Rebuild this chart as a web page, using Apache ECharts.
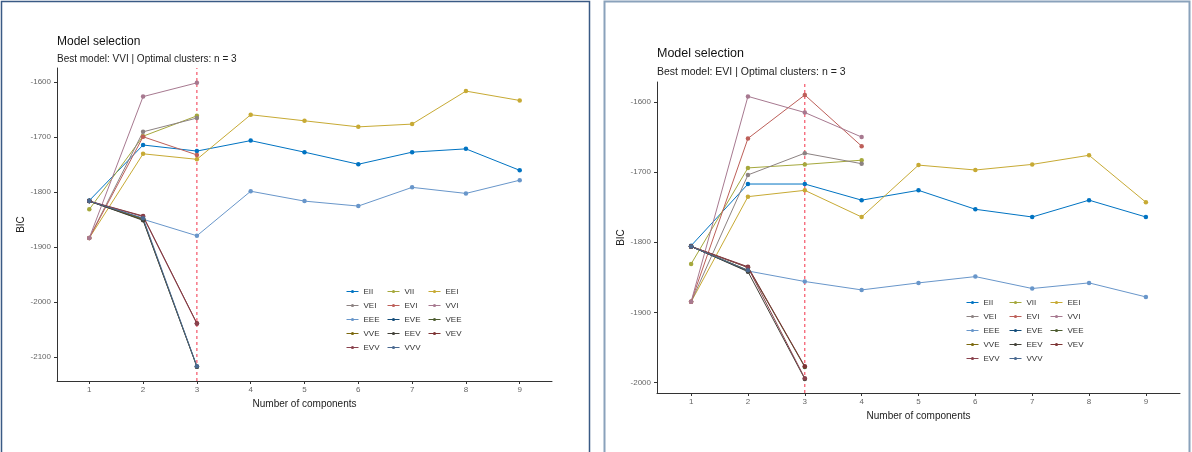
<!DOCTYPE html>
<html>
<head>
<meta charset="utf-8">
<script src="https://cdn.jsdelivr.net/npm/echarts@6/dist/echarts.min.js"></script>
<style>
html,body{margin:0;padding:0;background:#fff;}
#c{width:1192px;height:452px;}
</style>
</head>
<body>
<div id="c"></div>
<script>
// ---- data ----
const models = ['EII','VII','EEI','VEI','EVI','VVI','EEE','EVE','VEE','VVE','EEV','VEV','EVV','VVV'];
const modelColors = ['#0073C2','#A5A83C','#C7AA34','#8C8282','#BD5F59','#A77990','#6896CA','#134C79','#4D5C30','#7C690E','#424037','#7D3434','#8A424E','#4A6990'];
const components = [1,2,3,4,5,6,7,8,9];
const leftYTicks = [-2100,-2000,-1900,-1800,-1700,-1600];
const rightYTicks = [-2000,-1900,-1800,-1700,-1600];

// left panel (Best model VVI)
const L_EII = [-1816,-1715,-1726,-1707,-1728,-1750,-1728,-1722,-1761];
const L_VII = [-1832,-1699,-1662];
const L_EEI = [-1884,-1731,-1741,-1660,-1671,-1682,-1677,-1617,-1634];
const L_VEI = [-1884,-1691,-1666];
const L_EVI = [-1884,-1700,-1733];
const L_VVI = [-1884,-1627,-1602];
const L_EEE = [-1817,-1850,-1880,-1799,-1817,-1826,-1792,-1803,-1779];
const L_EVE = [-1817,-1849];
const L_VEE = [-1817,-1851,-2118];
const L_VVE = [-1817,-1850];
const L_EEV = [-1817,-1852,-2118];
const L_VEV = [-1817,-1844,-2039];
const L_EVV = [-1817,-1845,-2040];
const L_VVV = [-1817,-1848,-2117];

// right panel (Best model EVI)
const R_EII = [-1805,-1717,-1717,-1740,-1726,-1753,-1764,-1740,-1764];
const R_VII = [-1831,-1694,-1689,-1683];
const R_EEI = [-1885,-1735,-1726,-1764,-1690,-1697,-1689,-1676,-1743];
const R_VEI = [-1885,-1704,-1673,-1688];
const R_EVI = [-1885,-1652,-1590,-1663];
const R_VVI = [-1885,-1592,-1615,-1650];
const R_EEE = [-1806,-1841,-1856,-1868,-1858,-1849,-1866,-1858,-1878];
const R_EVE = [-1806,-1841];
const R_VEE = [-1806,-1836,-1978];
const R_VVE = [-1806,-1840];
const R_EEV = [-1806,-1842,-1995];
const R_VEV = [-1806,-1835,-1977];
const R_EVV = [-1806,-1836,-1994];
const R_VVV = [-1806,-1840];

const titleText = 'Model selection';
const leftSubtitle = 'Best model: VVI | Optimal clusters: n = 3';
const rightSubtitle = 'Best model: EVI | Optimal clusters: n = 3';
const bestK = 3;

const leftSets = [L_EII,L_VII,L_EEI,L_VEI,L_EVI,L_VVI,L_EEE,L_EVE,L_VEE,L_VVE,L_EEV,L_VEV,L_EVV,L_VVV];
const rightSets = [R_EII,R_VII,R_EEI,R_VEI,R_EVI,R_VVI,R_EEE,R_EVE,R_VEE,R_VVE,R_EEV,R_VEV,R_EVV,R_VVV];

// axis ranges (ggplot-style 5% expansion)
const leftRange = [-2144, -1575];
const rightRange = [-2015, -1571.5];

// ---- chart ----
const FONT = '"Liberation Sans", Arial, sans-serif';
const RED = '#f2334a';
const chart = echarts.init(document.getElementById('c'), null, {renderer:'canvas'});

function mkSeries(sets, axisIdx, range){
  const out = [{
    // dashed vertical line at the optimal number of clusters
    type:'line', name:'optimal', xAxisIndex: axisIdx, yAxisIndex: axisIdx,
    data:[[bestK, range[0]], [bestK, range[1]]],
    showSymbol:false, symbol:'none', z:1,
    lineStyle:{color: RED, type:[3,3], width:1},
    emphasis:{disabled:true}, animation:false, silent:true
  }];
  sets.forEach((vals, i) => out.push({
    type:'line', name: models[i], xAxisIndex: axisIdx, yAxisIndex: axisIdx,
    data: vals.map((v, j) => [components[j], v]),
    symbol:'circle', symbolSize:4.5, showSymbol:true, z:2,
    color: modelColors[i],
    lineStyle:{width:1, color: modelColors[i]},
    itemStyle:{color: modelColors[i]},
    emphasis:{disabled:true}, animation:false
  }));
  return out;
}

function xAx(gi){
  return {
    type:'value', gridIndex: gi, min:0.4, max:9.6,
    name:'Number of components', nameLocation:'middle', nameGap:16,
    nameTextStyle:{fontFamily:FONT, fontSize:10, color:'#222'},
    axisLine:{lineStyle:{color:'#333', width:1}},
    axisTick:{show:true, length:3, customValues: components, lineStyle:{color:'#333'}},
    axisLabel:{customValues: components, formatter: v => String(v), fontFamily:FONT, fontSize:8, color:'#666', margin:5},
    splitLine:{show:false}
  };
}
function yAx(gi, range, ticks){
  return {
    type:'value', gridIndex: gi, min:range[0], max:range[1],
    name:'BIC', nameLocation:'middle', nameGap:25,
    nameTextStyle:{fontFamily:FONT, fontSize:10, color:'#222'},
    axisLine:{show:true, lineStyle:{color:'#333', width:1}},
    axisTick:{show:true, length:3, customValues: ticks, lineStyle:{color:'#333'}},
    axisLabel:{customValues: ticks, formatter: v => String(v), fontFamily:FONT, fontSize:8, color:'#666', margin:6},
    splitLine:{show:false}
  };
}

function legendCols(x0, dx, top, gap){
  const cols = [[0,3,6,9,12],[1,4,7,10,13],[2,5,8,11]];
  return cols.map((idx, c) => ({
    orient:'vertical', left: x0 + dx[c], top: top, padding:0,
    itemWidth:12, itemHeight:4, itemGap: gap,
    selectedMode:false,
    lineStyle:{width:1},
    data: idx.map(i => models[i]),
    textStyle:{fontFamily:FONT, fontSize:8, color:'#333'}
  }));
}

const option = {
  backgroundColor:'#ffffff',
  animation:false,
  title:[
    {text:titleText, left:52, top:31, textStyle:{fontFamily:FONT, fontSize:12, fontWeight:'normal', color:'#111'}},
    {text:leftSubtitle, left:52, top:49, textStyle:{fontFamily:FONT, fontSize:10, fontWeight:'normal', color:'#222'}},
    {text:titleText, left:652, top:42, textStyle:{fontFamily:FONT, fontSize:12.5, fontWeight:'normal', color:'#111'}},
    {text:rightSubtitle, left:652, top:61.5, textStyle:{fontFamily:FONT, fontSize:10.5, fontWeight:'normal', color:'#222'}}
  ],
  grid:[
    {left:57, top:68, width:495, height:313, containLabel:false},
    {left:657, top:82, width:523, height:311, containLabel:false}
  ],
  xAxis:[xAx(0), xAx(1)],
  yAxis:[yAx(0, leftRange, leftYTicks), yAx(1, rightRange, rightYTicks)],
  legend: legendCols(346, [0,41,82], 287.5, 6).concat(legendCols(966, [0,43,84], 298.5, 6)),
  series: mkSeries(leftSets, 0, leftRange).concat(mkSeries(rightSets, 1, rightRange)),
  graphic:[
    {type:'rect', shape:{x:1.5, y:1.5, width:588, height:460}, style:{fill:'none', stroke:'#3a5a85', lineWidth:1.5}, silent:true},
    {type:'rect', shape:{x:604.5, y:1.5, width:585, height:460}, style:{fill:'none', stroke:'#8aa2bb', lineWidth:2}, silent:true}
  ]
};
chart.setOption(option);
</script>
</body>
</html>
